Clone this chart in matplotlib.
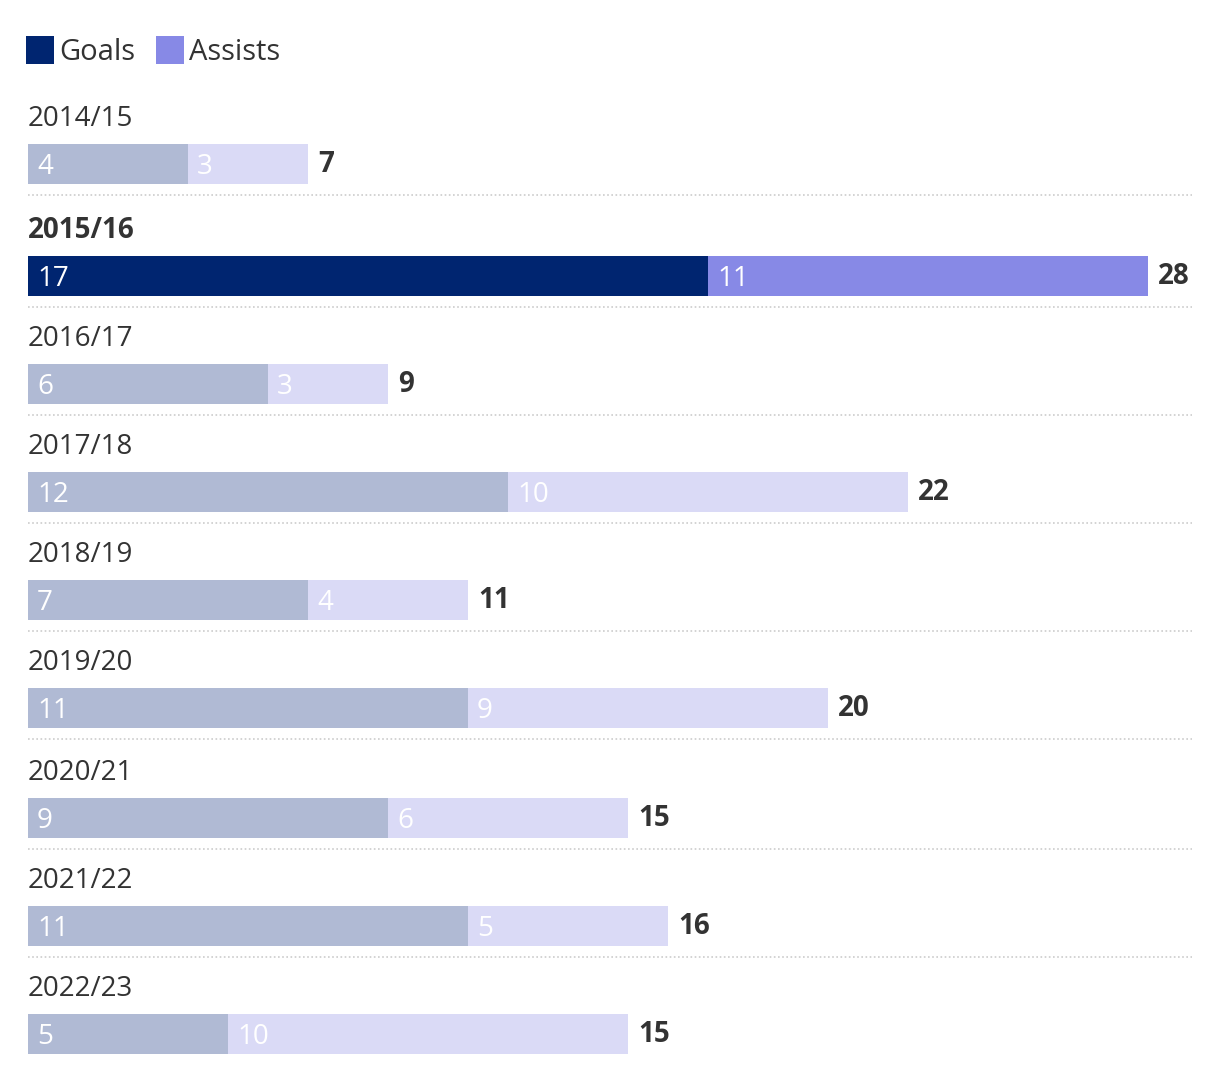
import matplotlib.pyplot as plt
from matplotlib.patches import Rectangle

# data
# ---
seasons = ['2014/15', '2015/16', '2016/17', '2017/18', '2018/19',
           '2019/20', '2020/21', '2021/22', '2022/23']
goals = [4, 17, 6, 12, 7, 11, 9, 11, 5]
assists = [3, 11, 3, 10, 4, 9, 6, 5, 10]
highlight = '2015/16'

# colours
c_goals = '#002570'
c_assists = '#8789e6'
c_goals_fade = '#b0bad4'
c_assists_fade = '#dadaf6'
c_text = '#333333'

plt.rcParams['font.family'] = ['Open Sans', 'DejaVu Sans']

W, H = 1220, 1082
px = 40.0           # pixels per goal/assist
x0 = 28             # left edge of bars in pixels

fig = plt.figure(figsize=(W/100, H/100), dpi=100)
ax = fig.add_axes([0, 0, 1, 1])
ax.set_xlim(-x0/px, (W - x0)/px)
ax.set_ylim(H, 0)
ax.axis('off')

# one unit on x in pixels, for offsets
u = 1/px

# centre of each bar row (pixels from top)
row_y = [164, 276, 384, 492, 600, 708, 818, 926, 1034]
bar_h = 40

for i, s in enumerate(seasons):
    yc = row_y[i]
    hl = (s == highlight)
    cg = c_goals if hl else c_goals_fade
    ca = c_assists if hl else c_assists_fade
    g, a = goals[i], assists[i]

    ax.barh(yc, g, height=bar_h, left=0, color=cg, linewidth=0)
    ax.barh(yc, a, height=bar_h, left=g, color=ca, linewidth=0)

    ax.text(0, yc - 45, s, fontsize=20, color=c_text, va='center', ha='left',
            fontweight='bold' if hl else 'normal')
    ax.text(9*u, yc + 3, str(g), fontsize=20, color='white', va='center', ha='left')
    ax.text(g + 9*u, yc + 3, str(a), fontsize=20, color='white', va='center', ha='left')
    ax.text(g + a + 10*u, yc + 1, str(g + a), fontsize=20, color=c_text,
            va='center', ha='left', fontweight='bold')

    if i < len(seasons) - 1:
        ax.plot([0, (1192 - x0)*u], [yc + 31, yc + 31], color='#cccccc',
                lw=1.2, ls=(0, (1, 1.5)))

# legend
for xs, lab, col in [(26, 'Goals', c_goals), (156, 'Assists', c_assists)]:
    ax.add_patch(Rectangle(((xs - x0)*u, 36), 28*u, 28, color=col, lw=0))
    ax.text((xs + 33 - x0)*u, 53, lab, fontsize=21, color=c_text, va='center', ha='left')

fig.savefig('out.png', dpi=100)
plt.close()
